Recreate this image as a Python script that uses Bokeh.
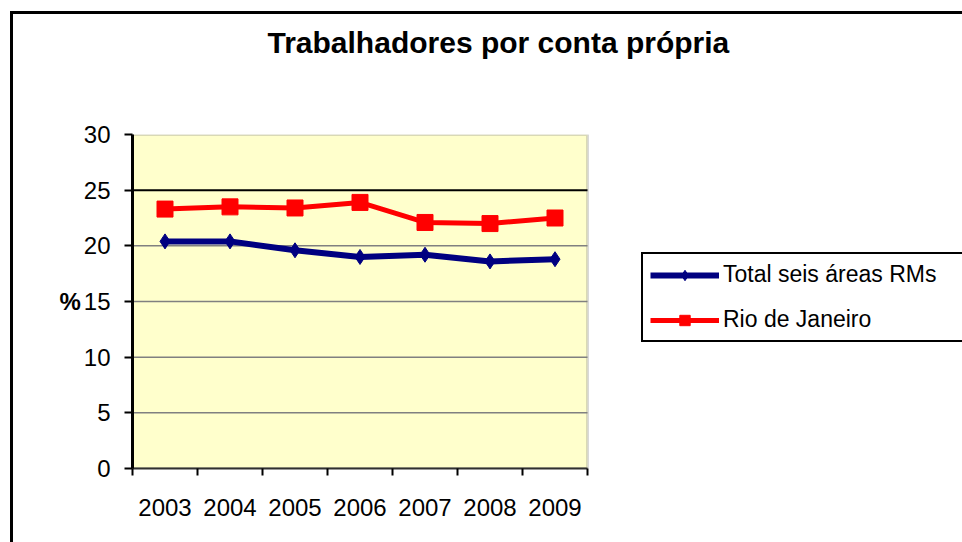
from bokeh.plotting import figure
from bokeh.models import (Legend, LegendItem, FixedTicker, ColumnDataSource, Title, Div,
                          BoxAnnotation, Range1d)
from bokeh.layouts import column, row
from bokeh.embed import file_html
from bokeh.resources import INLINE

years = ["2003", "2004", "2005", "2006", "2007", "2008", "2009"]
total_seis = [20.4, 20.4, 19.6, 19.0, 19.2, 18.6, 18.8]
rio = [23.3, 23.5, 23.4, 23.9, 22.1, 22.0, 22.5]
y_ticks = [0, 5, 10, 15, 20, 25, 30]
title_text = "Trabalhadores por conta própria"
series_names = ["Total seis áreas RMs", "Rio de Janeiro"]
y_label = "%"

FONT = "Liberation Sans"

n = len(years)
xs = [i + 0.5 for i in range(n)]
boundaries = list(range(n + 1))

FIG_W, FIG_H = 949, 528
LEFT, TOP, BOTTOM = 119, 120, 74
PLOT_W = 455                       # pixel width of the yellow plot area
frame_w = FIG_W - LEFT
x_end = n * frame_w / PLOT_W       # frame extends to the right edge (legend lives there)

p = figure(width=FIG_W, height=FIG_H, x_range=Range1d(0, x_end), y_range=Range1d(0, 30),
           output_backend="svg", toolbar_location=None,
           min_border_left=LEFT, min_border_right=0, min_border_top=TOP, min_border_bottom=BOTTOM,
           background_fill_color="white", border_fill_color="white", margin=0)
p.outline_line_color = None

# title (outermost) + spacer between title and plot area
p.title.text = title_text
p.title.text_font = FONT
p.title.text_font_size = "30px"
p.title.text_font_style = "bold"
p.title.text_color = "black"
p.title.align = "left"
p.title.offset = 135
p.title.standoff = 10
p.add_layout(Title(text=" ", text_font_size="10px", standoff=58), "above")

# plot area
p.add_layout(BoxAnnotation(left=0, right=n, bottom=y_ticks[0], top=y_ticks[-1],
                           fill_color="#FFFFCC", fill_alpha=1,
                           line_color="#808080", line_width=3, level="underlay"))
p.xgrid.visible = False
p.ygrid.visible = False
grid_y = y_ticks[1:-1]
grid_colors = ["black" if t == 25 else "#808080" for t in grid_y]
grid_widths = [2 if t == 25 else 1.5 for t in grid_y]
p.segment(x0=0, x1=n, y0=grid_y, y1=grid_y, line_color=grid_colors, line_width=grid_widths)

# y axis
p.yaxis.ticker = FixedTicker(ticks=y_ticks)
p.yaxis.axis_line_color = "black"
p.yaxis.axis_line_width = 3
p.yaxis.major_tick_out = 8
p.yaxis.major_tick_in = 0
p.yaxis.major_tick_line_width = 2
p.yaxis.minor_tick_line_color = None
p.yaxis.major_label_text_font = FONT
p.yaxis.major_label_text_font_size = "24px"
p.yaxis.major_label_text_color = "black"
p.yaxis.major_label_standoff = 14
p.yaxis.axis_label = y_label
p.yaxis.axis_label_text_font = FONT
p.yaxis.axis_label_text_font_size = "24px"
p.yaxis.axis_label_text_font_style = "bold"
p.yaxis.axis_label_text_color = "black"
p.yaxis.axis_label_standoff = 0
try:
    p.yaxis.axis_label_orientation = "horizontal"
except Exception:
    pass

# x axis
p.xaxis.bounds = (0, n)
p.xaxis.ticker = FixedTicker(ticks=xs, minor_ticks=boundaries)
p.xaxis.major_label_overrides = {x: y for x, y in zip(xs, years)}
p.xaxis.axis_line_color = "#303030"
p.xaxis.axis_line_width = 2
p.xaxis.major_tick_line_color = None
p.xaxis.major_tick_out = 0
p.xaxis.major_tick_in = 0
p.xaxis.minor_tick_out = 7
p.xaxis.minor_tick_in = 0
p.xaxis.minor_tick_line_width = 2
p.xaxis.minor_tick_line_color = "black"
p.xaxis.major_label_text_font = FONT
p.xaxis.major_label_text_font_size = "24px"
p.xaxis.major_label_text_color = "black"
p.xaxis.major_label_standoff = 23

src = ColumnDataSource(dict(x=xs, total=total_seis, rio=rio))

l1 = p.line("x", "total", source=src, line_color="#000080", line_width=6)
s1 = p.scatter("x", "total", source=src, marker="diamond", size=15,
               fill_color="#000080", line_color="#000080")
l2 = p.line("x", "rio", source=src, line_color="#FF0000", line_width=5)
s2 = p.scatter("x", "rio", source=src, marker="square", size=16,
               fill_color="#FF0000", line_color="#FF0000")

legend = Legend(items=[LegendItem(label=series_names[0], renderers=[l1, s1]),
                       LegendItem(label=series_names[1], renderers=[l2, s2])],
                location=(509, 126), orientation="vertical", margin=0,
                border_line_color="black", border_line_width=2, border_line_alpha=1,
                background_fill_color="white", background_fill_alpha=1,
                padding=7, spacing=18, glyph_width=69, glyph_height=26,
                label_standoff=4, label_width=260,
                label_text_font=FONT, label_text_font_size="23px",
                label_text_color="black")
p.add_layout(legend)

top_bar = Div(text="", width=952, height=3, margin=(11, 0, 0, 10),
              styles={"background-color": "black"})
left_bar = Div(text="", width=3, height=FIG_H, margin=(0, 0, 0, 10),
               styles={"background-color": "black"})
layout = column(top_bar, row(left_bar, p, spacing=0, margin=0), spacing=0, margin=0)

open("out.html", "w").write(file_html(layout, INLINE))
